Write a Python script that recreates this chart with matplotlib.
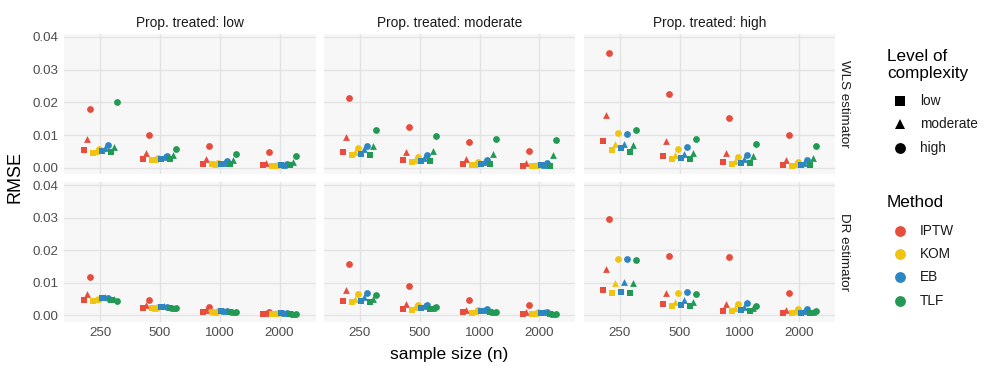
import matplotlib
matplotlib.use("Agg")
import matplotlib.pyplot as plt
from matplotlib.lines import Line2D
import numpy as np

plt.rcParams["font.family"] = ["Liberation Sans", "DejaVu Sans"]

sizes = ["250", "500", "1000", "2000"]
methods = ["IPTW", "KOM", "EB", "TLF"]
complexity = ["low", "moderate", "high"]
treated = ["low", "moderate", "high"]
estimators = ["WLS estimator", "DR estimator"]
colors = ["#E74C3C", "#F1C40F", "#2E86C1", "#229954"]
shapes = ["s", "^", "o"]

# rows: method x complexity (IPTW low/mod/high, KOM ..., EB ..., TLF ...), cols: sample size
wls_low = [
    [0.0054, 0.0026, 0.0013, 0.0007], [0.0088, 0.0044, 0.0027, 0.0016], [0.0179, 0.0100, 0.0066, 0.0048],
    [0.0046, 0.0025, 0.0012, 0.0006], [0.0052, 0.0028, 0.0013, 0.0007], [0.0058, 0.0030, 0.0015, 0.0009],
    [0.0052, 0.0026, 0.0013, 0.0007], [0.0060, 0.0032, 0.0016, 0.0009], [0.0071, 0.0037, 0.0020, 0.0011],
    [0.0048, 0.0026, 0.0013, 0.0007], [0.0064, 0.0039, 0.0025, 0.0018], [0.0202, 0.0056, 0.0043, 0.0037],
]
wls_moderate = [
    [0.0048, 0.0023, 0.0011, 0.0006], [0.0095, 0.0047, 0.0027, 0.0016], [0.0214, 0.0125, 0.0079, 0.0052],
    [0.0038, 0.0019, 0.0010, 0.0005], [0.0049, 0.0025, 0.0013, 0.0007], [0.0059, 0.0032, 0.0017, 0.0010],
    [0.0042, 0.0020, 0.0012, 0.0007], [0.0056, 0.0030, 0.0017, 0.0010], [0.0068, 0.0039, 0.0023, 0.0014],
    [0.0040, 0.0020, 0.0011, 0.0006], [0.0067, 0.0050, 0.0043, 0.0040], [0.0114, 0.0098, 0.0088, 0.0084],
]
wls_high = [
    [0.0082, 0.0037, 0.0017, 0.0008], [0.0162, 0.0082, 0.0044, 0.0025], [0.0350, 0.0226, 0.0153, 0.0100],
    [0.0053, 0.0026, 0.0013, 0.0006], [0.0072, 0.0038, 0.0022, 0.0013], [0.0105, 0.0057, 0.0032, 0.0019],
    [0.0059, 0.0030, 0.0016, 0.0008], [0.0074, 0.0042, 0.0027, 0.0015], [0.0102, 0.0063, 0.0039, 0.0024],
    [0.0049, 0.0026, 0.0016, 0.0007], [0.0071, 0.0046, 0.0035, 0.0030], [0.0115, 0.0088, 0.0074, 0.0066],
]
dr_low = [
    [0.0048, 0.0023, 0.0010, 0.0004], [0.0065, 0.0031, 0.0016, 0.0008], [0.0117, 0.0048, 0.0025, 0.0010],
    [0.0045, 0.0022, 0.0009, 0.0004], [0.0049, 0.0024, 0.0011, 0.0006], [0.0050, 0.0025, 0.0012, 0.0007],
    [0.0052, 0.0025, 0.0012, 0.0006], [0.0056, 0.0029, 0.0014, 0.0008], [0.0054, 0.0026, 0.0014, 0.0007],
    [0.0047, 0.0023, 0.0011, 0.0005], [0.0050, 0.0023, 0.0011, 0.0005], [0.0044, 0.0022, 0.0010, 0.0004],
]
dr_moderate = [
    [0.0044, 0.0019, 0.0009, 0.0004], [0.0077, 0.0035, 0.0016, 0.0010], [0.0159, 0.0091, 0.0048, 0.0033],
    [0.0040, 0.0017, 0.0008, 0.0004], [0.0051, 0.0026, 0.0014, 0.0007], [0.0065, 0.0031, 0.0017, 0.0010],
    [0.0044, 0.0022, 0.0013, 0.0006], [0.0056, 0.0029, 0.0017, 0.0009], [0.0068, 0.0032, 0.0019, 0.0010],
    [0.0040, 0.0019, 0.0010, 0.0005], [0.0051, 0.0022, 0.0010, 0.0005], [0.0062, 0.0025, 0.0010, 0.0005],
]
dr_high = [
    [0.0079, 0.0034, 0.0014, 0.0007], [0.0141, 0.0068, 0.0034, 0.0015], [0.0296, 0.0183, 0.0178, 0.0068],
    [0.0068, 0.0028, 0.0014, 0.0006], [0.0098, 0.0041, 0.0023, 0.0012], [0.0172, 0.0069, 0.0034, 0.0018],
    [0.0071, 0.0032, 0.0016, 0.0007], [0.0104, 0.0046, 0.0025, 0.0012], [0.0173, 0.0072, 0.0037, 0.0020],
    [0.0068, 0.0029, 0.0014, 0.0006], [0.0099, 0.0041, 0.0022, 0.0010], [0.0171, 0.0065, 0.0030, 0.0013],
]
panels = [[wls_low, wls_moderate, wls_high], [dr_low, dr_moderate, dr_high]]

W, H = 996, 372
fig = plt.figure(figsize=(W / 100, H / 100), dpi=100)
lefts = [64.2, 324.0, 584.0]
pw = 251.3
rows = [(33.5, 174.0), (182.0, 321.5)]
txt = "#1A1A1A"
tick_c = "#4D4D4D"
msize = [15, 24, 24]

for r in range(2):
    top, bot = rows[r]
    for c in range(3):
        ax = fig.add_axes([lefts[c] / W, 1 - bot / H, pw / W, (bot - top) / H])
        ax.set_facecolor("#F7F7F7")
        for s in ax.spines.values():
            s.set_visible(False)
        ax.set_xlim(-0.6, 3.6)
        ax.set_ylim(-0.0019, 0.041)
        ax.set_yticks([0, 0.01, 0.02, 0.03, 0.04])
        ax.set_xticks(range(4))
        ax.grid(True, color="#E3E3E3", lw=1.0)
        ax.set_axisbelow(True)
        ax.tick_params(length=0, labelsize=9.6, colors=tick_c, pad=4)
        if c == 0:
            ax.set_yticklabels(["0.00", "0.01", "0.02", "0.03", "0.04"])
        else:
            ax.set_yticklabels([])
        if r == 1:
            ax.set_xticklabels(sizes)
        else:
            ax.set_xticklabels([])
        data = np.array(panels[r][c])
        for m in range(4):
            for k in range(3):
                i = m * 3 + k
                xs = np.arange(4) + (i - 5.5) * 0.05
                ax.scatter(xs, data[i], marker=shapes[k], color=colors[m],
                           s=msize[k], linewidths=0, zorder=3)
        if r == 0:
            ax.set_title("Prop. treated: " + treated[c], fontsize=9.9, color=txt, pad=5)
        if c == 2:
            ax.text(1.035, 0.5, estimators[r], transform=ax.transAxes, rotation=-90,
                    ha="center", va="center", fontsize=9.6, color=txt)

fig.text(15 / W, 1 - 177 / H, "RMSE", rotation=90, ha="center", va="center", fontsize=13, color="black")
fig.text((64.2 + 835) / 2 / W, 1 - 354 / H, "sample size (n)", ha="center", va="center",
         fontsize=12.5, color="black")

# legends
fig.text(887 / W, 1 - 65 / H, "Level of\ncomplexity", ha="left", va="center", fontsize=12.3,
         color="black", linespacing=1.1)
for k, lab in enumerate(complexity):
    y = 101 + k * 23.3
    fig.add_artist(Line2D([900 / W], [1 - y / H], marker=shapes[k], color="black",
                          ms=7 if k == 0 else 7.8, lw=0, markeredgewidth=0))
    fig.text(920 / W, 1 - y / H, lab, ha="left", va="center", fontsize=9.8, color=txt)
fig.text(887 / W, 1 - 203 / H, "Method", ha="left", va="center", fontsize=12.3, color="black")
for m, lab in enumerate(methods):
    y = 230.7 + m * 23.3
    fig.add_artist(Line2D([900 / W], [1 - y / H], marker="o", color=colors[m], ms=7.8, lw=0,
                          markeredgewidth=0))
    fig.text(920 / W, 1 - y / H, lab, ha="left", va="center", fontsize=9.8, color=txt)

fig.savefig("out.png", dpi=100)
